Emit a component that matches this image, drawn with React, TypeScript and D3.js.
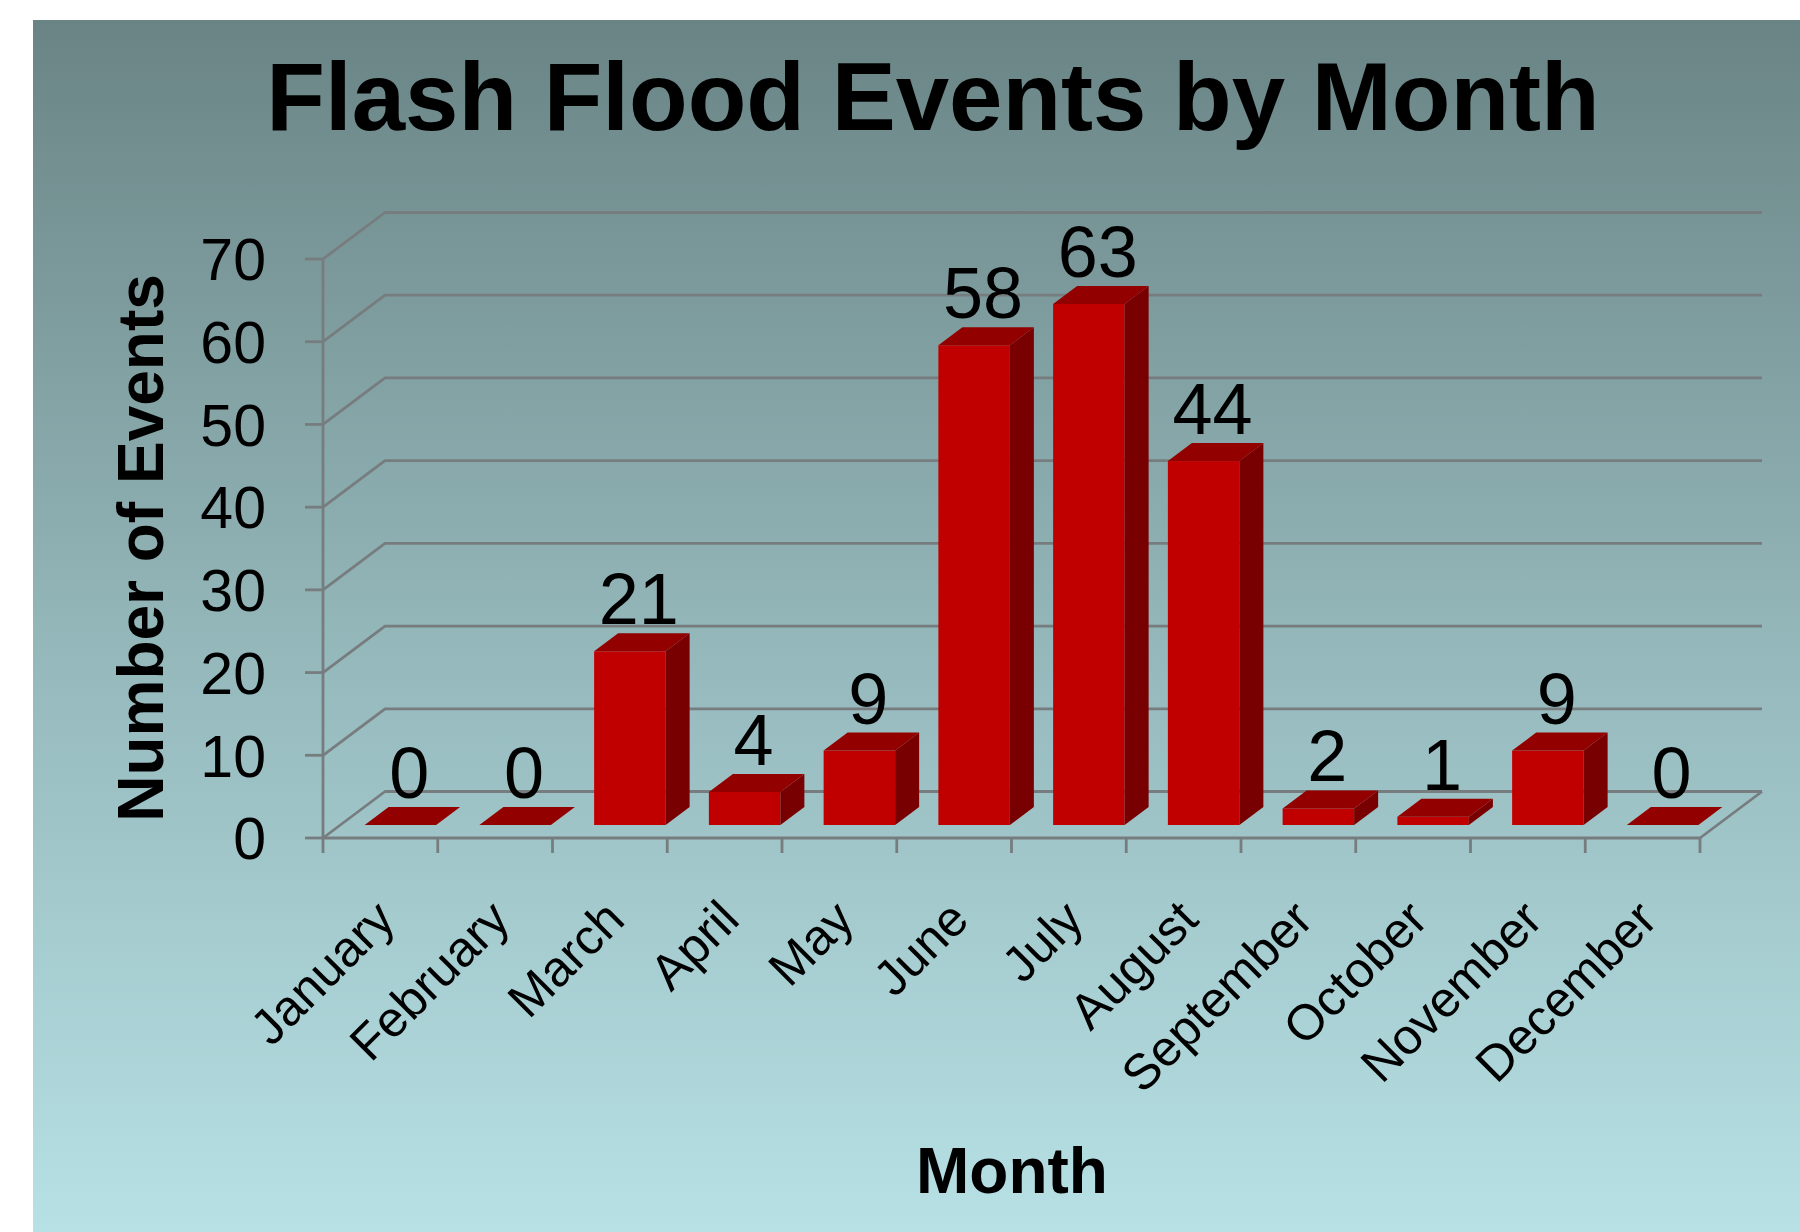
import React from 'react';
import * as d3 from 'd3';

const months = ['January', 'February', 'March', 'April', 'May', 'June', 'July', 'August', 'September', 'October', 'November', 'December'];
const events = [0, 0, 21, 4, 9, 58, 63, 44, 2, 1, 9, 0];
const yTicks = [0, 10, 20, 30, 40, 50, 60, 70];
const chartTitle = 'Flash Flood Events by Month';
const xTitle = 'Month';
const yTitle = 'Number of Events';

const FONT = '"Liberation Sans", Arial, Helvetica, sans-serif';

export default function App() {
  const W = 1800;
  const H = 1232;
  const x = d3.scaleBand<string>().domain(months).range([323, 1700]).paddingInner(0).paddingOuter(0);
  const y = d3.scaleLinear().domain([0, 70]).range([838, 259]);
  const bw = x.bandwidth();
  // 3D wall depth
  const DX = 62;
  const DY = -46.5;
  // bar placement within the depth
  const SX = 20;
  const SY = -13;
  const BDX = 24;
  const BDY = -18;
  const barW = 71.5;

  const gridColor = '#777d7f';
  const x0 = x.range()[0];
  const x1 = x.range()[1];
  const backRight = x1 + DX;

  const boundaries = months.map((m) => x(m) as number).concat([x1]);

  return (
    <svg width={W} height={H} style={{ position: 'absolute', left: 0, top: 0 }} fontFamily={FONT}>
      <defs>
        <linearGradient id="bg" x1="0" y1="0" x2="0" y2="1">
          <stop offset="0%" stopColor="#6a8485" />
          <stop offset="50%" stopColor="#93b6b9" />
          <stop offset="100%" stopColor="#b7e1e5" />
        </linearGradient>
      </defs>
      <rect x={0} y={0} width={W} height={H} fill="#ffffff" />
      <rect x={33} y={20} width={W - 33} height={H - 20} fill="url(#bg)" />

      <text x={933} y={130} textAnchor="middle" fontSize={96} fontWeight="bold" fill="#000">
        {chartTitle}
      </text>

      {/* walls: gridlines */}
      <g stroke={gridColor} strokeWidth={2.8} fill="none" strokeLinejoin="round">
        {yTicks.map((t) => (
          <polyline
            key={'g' + t}
            points={`${x0},${y(t)} ${x0 + DX},${y(t) + DY} ${backRight},${y(t) + DY}`}
          />
        ))}
        {/* vertical axis */}
        <line x1={x0} y1={y(70)} x2={x0} y2={y(0)} />
        {/* floor front and right edges */}
        <polyline points={`${x0},${y(0)} ${x1},${y(0)} ${backRight},${y(0) + DY}`} />
        {/* y ticks */}
        {yTicks.map((t) => (
          <line key={'yt' + t} x1={x0 - 18} y1={y(t)} x2={x0} y2={y(t)} />
        ))}
        {/* x ticks */}
        {boundaries.map((b, i) => (
          <line key={'xt' + i} x1={b} y1={y(0)} x2={b} y2={y(0) + 15} />
        ))}
      </g>

      {/* y tick labels */}
      {yTicks.map((t) => (
        <text key={'yl' + t} x={266} y={y(t)} dy="0.36em" textAnchor="end" fontSize={59} fill="#000">
          {t}
        </text>
      ))}

      {/* bars */}
      {months.map((m, i) => {
        const v = events[i];
        const fx = (x(m) as number) + (bw - barW) / 2 + SX;
        const yb = y(0) + SY;
        const yt = y(v) + SY;
        const front = v > 0;
        return (
          <g key={'b' + m}>
            {front && <rect x={fx} y={yt} width={barW} height={yb - yt} fill="#c00000" />}
            {front && (
              <polygon
                points={`${fx + barW},${yt} ${fx + barW + BDX},${yt + BDY} ${fx + barW + BDX},${yb + BDY} ${fx + barW},${yb}`}
                fill="#780000"
              />
            )}
            <polygon
              points={`${fx},${yt} ${fx + barW},${yt} ${fx + barW + BDX},${yt + BDY} ${fx + BDX},${yt + BDY}`}
              fill="#930000"
            />
            <text
              x={fx + barW / 2 + 9}
              y={yt + BDY - 9}
              textAnchor="middle"
              fontSize={72}
              fill="#000"
            >
              {v}
            </text>
          </g>
        );
      })}

      {/* category labels */}
      {months.map((m) => {
        const cx = (x(m) as number) + bw / 2 + 17;
        const cy = 922;
        return (
          <text
            key={'cl' + m}
            transform={`translate(${cx},${cy}) rotate(-45)`}
            textAnchor="end"
            fontSize={50}
            fill="#000"
          >
            {m}
          </text>
        );
      })}

      <text x={1012} y={1193} textAnchor="middle" fontSize={64} fontWeight="bold" fill="#000">
        {xTitle}
      </text>
      <text
        transform={`translate(163,548) rotate(-90)`}
        textAnchor="middle"
        fontSize={64}
        fontWeight="bold"
        fill="#000"
      >
        {yTitle}
      </text>
    </svg>
  );
}
